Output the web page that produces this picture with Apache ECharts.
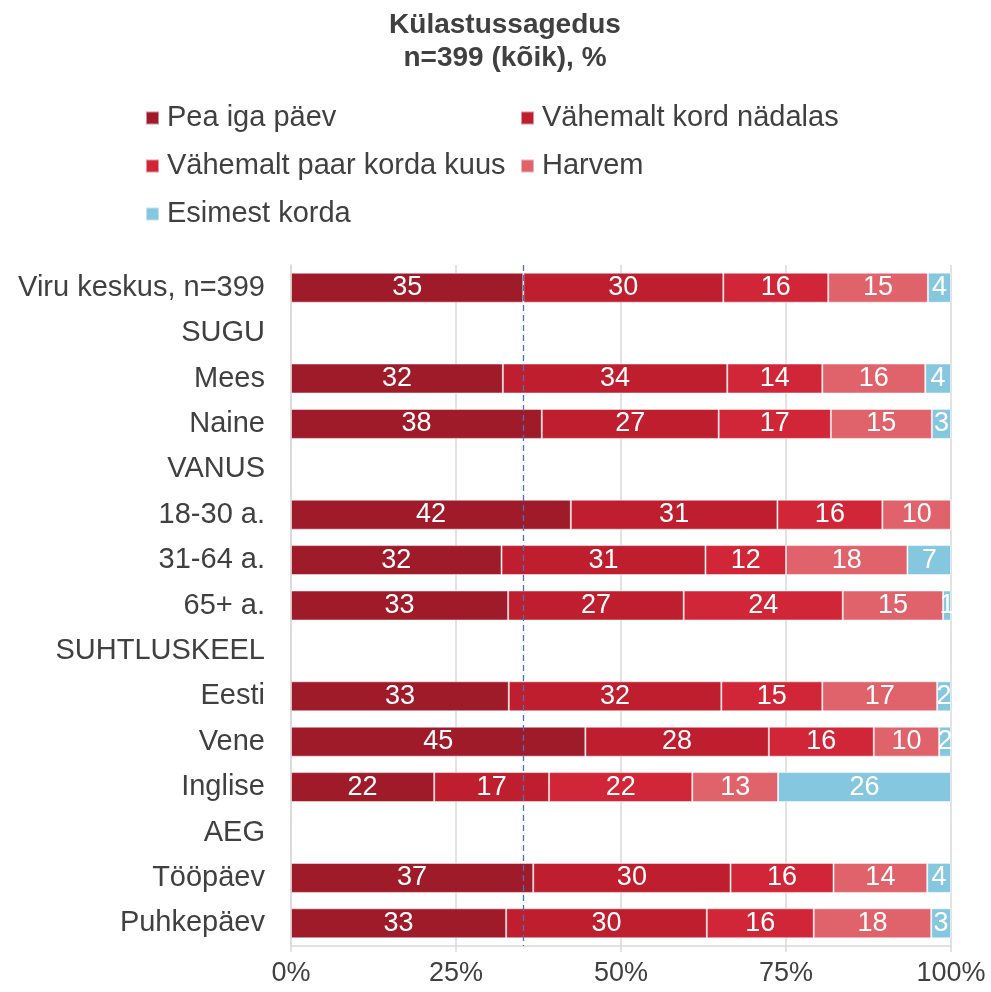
<!DOCTYPE html>
<html>
<head>
<meta charset="utf-8">
<script src="https://cdn.jsdelivr.net/npm/echarts@6/dist/echarts.min.js"></script>
<style>
  html, body { margin: 0; padding: 0; background: #fff; }
  #chart { width: 991px; height: 992px; }
</style>
</head>
<body>
<div id="chart"></div>
<script>
var categories = ['Viru keskus, n=399', 'SUGU', 'Mees', 'Naine', 'VANUS', '18-30 a.', '31-64 a.', '65+ a.',
    'SUHTLUSKEEL', 'Eesti', 'Vene', 'Inglise', 'AEG', 'Tööpäev', 'Puhkepäev'];
var seriesNames = ['Pea iga päev', 'Vähemalt kord nädalas', 'Vähemalt paar korda kuus', 'Harvem', 'Esimest korda'];
var peaIgaPaev = [35.2, null, 32.1, 38.0, null, 42.4, 31.9, 32.9, null, 33.0, 44.6, 21.7, null, 36.7, 32.6];
var kordNadalas = [30.3, null, 34.0, 26.8, null, 31.3, 30.9, 26.6, null, 32.2, 27.8, 17.4, null, 29.9, 30.4];
var paarKuus = [15.9, null, 14.4, 17.0, null, 15.9, 12.2, 24.1, null, 15.3, 15.9, 21.7, null, 15.6, 16.2];
var harvem = [15.1, null, 15.6, 15.3, null, 10.4, 18.4, 15.2, null, 17.4, 9.9, 13.0, null, 14.2, 17.8];
var esimestKorda = [3.5, null, 3.9, 2.9, null, 0, 6.6, 1.2, null, 2.1, 1.8, 26.2, null, 3.6, 3.0];
var koikKokku = 35.2; // katkendjoon: Viru keskus "Pea iga päev"
var xTicks = [0, 25, 50, 75, 100];

var colors = ['#A01B2A', '#BE1E2E', '#D12638', '#E0636C', '#86C7E0'];
var allData = [peaIgaPaev, kordNadalas, paarKuus, harvem, esimestKorda];

var chart = echarts.init(document.getElementById('chart'));

var series = seriesNames.map(function (name, i) {
    var s = {
        name: name,
        type: 'bar',
        stack: 'total',
        barWidth: 30,
        data: allData[i],
        itemStyle: { color: colors[i], borderColor: 'rgba(255,255,255,0.5)', borderWidth: 1 },
        label: {
            show: true,
            position: 'inside',
            color: '#fff',
            fontSize: 27,
            fontFamily: 'Liberation Sans',
            formatter: function (p) {
                if (p.value == null || p.value === 0) return '';
                return Math.round(p.value);
            }
        }
    };
    if (i === 0) {
        s.markLine = {
            silent: true,
            symbol: 'none',
            label: { show: false },
            lineStyle: { color: '#4472C4', type: [6, 4], width: 1.3 },
            data: [{ xAxis: koikKokku }]
        };
    }
    return s;
});

var legendText = { fontSize: 29, color: '#404040', fontFamily: 'Liberation Sans', padding: [0, 0, 0, 3], lineHeight: 30 };

var option = {
    animation: false,
    color: colors,
    textStyle: { fontFamily: 'Liberation Sans' },
    title: {
        text: 'Külastussagedus\nn=399 (kõik), %',
        left: 500,
        textAlign: 'center',
        top: 4,
        textStyle: { fontSize: 28, fontWeight: 'bold', color: '#404040', lineHeight: 33, fontFamily: 'Liberation Sans' }
    },
    legend: [
        {
            orient: 'vertical',
            left: 140,
            top: 98,
            itemWidth: 13,
            itemHeight: 13,
            itemGap: 18,
            icon: 'rect',
            data: [seriesNames[0], seriesNames[2], seriesNames[4]],
            textStyle: legendText
        },
        {
            orient: 'vertical',
            left: 515,
            top: 98,
            itemWidth: 13,
            itemHeight: 13,
            itemGap: 18,
            icon: 'rect',
            data: [seriesNames[1], seriesNames[3]],
            textStyle: legendText
        }
    ],
    grid: { left: 291, right: 40, top: 265, bottom: 46, containLabel: false },
    xAxis: {
        type: 'value',
        min: xTicks[0],
        max: xTicks[xTicks.length - 1],
        interval: 25,
        axisLabel: { formatter: '{value}%', fontSize: 27, color: '#404040', margin: 14 },
        axisLine: { show: true, lineStyle: { color: '#D9D9D9', width: 1.5 } },
        axisTick: { show: true, length: 6, lineStyle: { color: '#D9D9D9', width: 1.5 } },
        splitLine: { show: true, lineStyle: { color: '#D9D9D9', width: 1.5 } }
    },
    yAxis: {
        type: 'category',
        inverse: true,
        data: categories,
        axisLabel: { fontSize: 29, color: '#404040', margin: 26 },
        axisLine: { show: true, lineStyle: { color: '#D9D9D9', width: 1.5 } },
        axisTick: { show: false }
    },
    series: series
};

chart.setOption(option);
</script>
</body>
</html>
